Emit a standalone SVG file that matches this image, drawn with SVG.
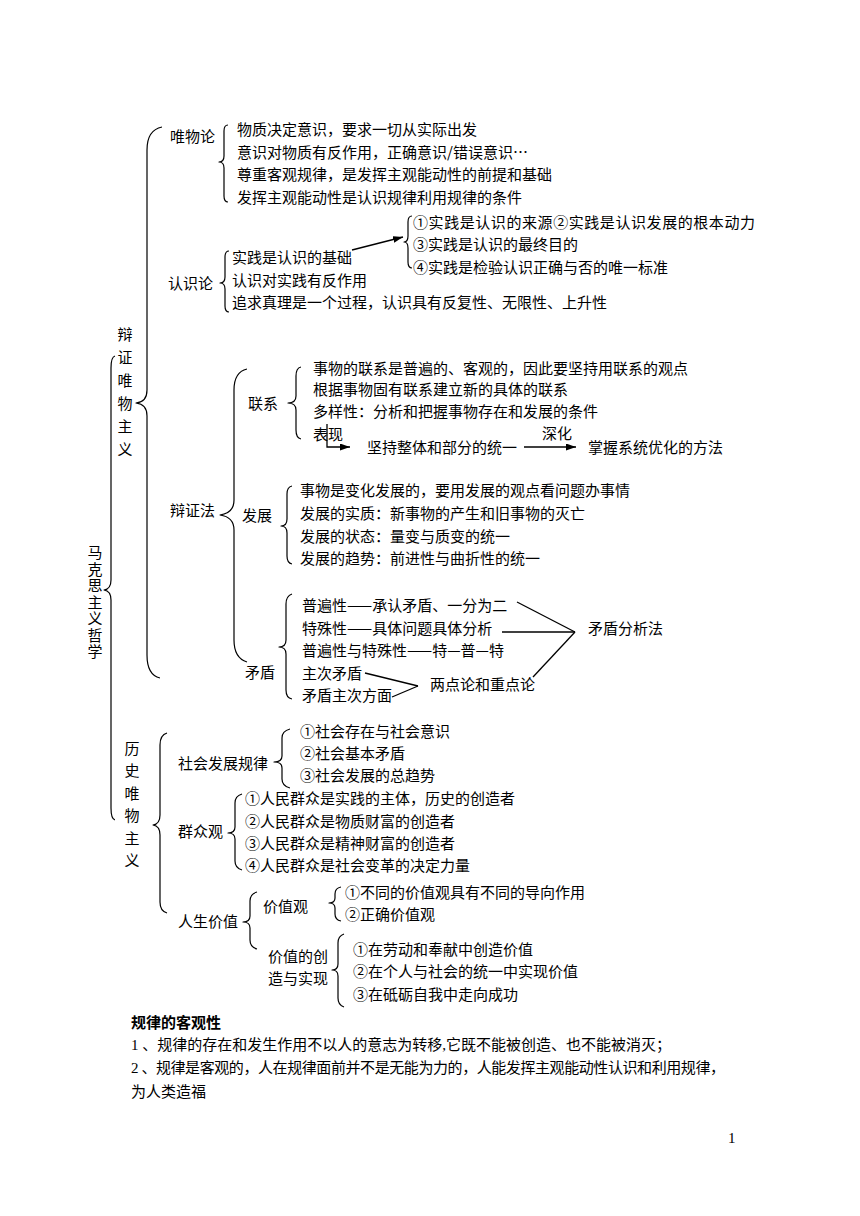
<svg xmlns="http://www.w3.org/2000/svg" width="860" height="1216" viewBox="0 0 860 1216">
<style>
.t{font-family:"Noto Sans CJK SC",sans-serif;font-size:15px;fill:#000}
.b{font-family:"Liberation Serif","Noto Sans CJK SC",serif;font-size:15px;fill:#000}
.v{font-family:"Noto Sans CJK SC",sans-serif;font-size:15px;fill:#000;text-anchor:middle}
.vt{font-family:"Noto Sans CJK SC",sans-serif;font-size:15px;fill:#000;writing-mode:tb;glyph-orientation-vertical:0}
.br{fill:none;stroke:#000;stroke-width:1.2;stroke-linejoin:round}
.ln{fill:none;stroke:#000;stroke-width:1.3}
</style>
<defs>
<marker id="ah" viewBox="0 0 10 7" refX="10" refY="3.5" markerWidth="10" markerHeight="7" markerUnits="userSpaceOnUse" orient="auto">
<path d="M0,0 L10,3.5 L0,7 z" fill="#000"/>
</marker>
</defs>
<rect width="860" height="1216" fill="#fff"/>

<g id="connectors">
<path class="br" d="M115,356 Q111,357 111,368 L111,580 Q111,589 104,590 Q111,591 111,600 L111,808 Q111,819 115,820"/>
<path class="br" d="M162,127 Q147,130 147,150 L147,390 Q147,402 136,403 Q147,404 147,416 L147,655 Q147,675 160,678"/>
<path class="br" d="M247,369 Q234,372 234,390 L234,500 Q234,513 220,515 Q234,517 234,530 L234,640 Q234,658 247,662"/>
<path class="br" d="M167,733 Q160,735 160,745 L160,815 Q160,824 153,825 Q160,826 160,835 L160,902 Q160,911 167,913"/>
<path class="br" d="M228,125 Q224,125 224,131 L224,156 Q224,162 219,162 Q224,162 224,168 L224,196 Q224,202 228,202"/>
<path class="br" d="M229,251 Q225,251 225,257 L225,277 Q225,283 220,283 Q225,283 225,289 L225,306 Q225,312 229,312"/>
<path class="br" d="M412,216 Q408,216 408,222 L408,236 Q408,242 404,242 Q408,242 408,248 L408,262 Q408,268 412,268"/>
<path class="br" d="M301,367 Q296,368 296,376 L296,396 Q296,403 288,403 Q296,403 296,410 L296,430 Q296,438 301,439"/>
<path class="br" d="M292,486 Q287,487 287,494 L287,519 Q287,526 281,526 Q287,526 287,533 L287,556 Q287,563 292,564"/>
<path class="br" d="M292,594 Q286,596 286,604 L286,640 Q286,647 279,647 Q286,647 286,654 L286,690 Q286,698 292,699"/>
<path class="br" d="M290,729 Q282,731 282,738 L282,756 Q282,762 274,762 Q282,762 282,768 L282,779 Q282,786 290,788"/>
<path class="br" d="M242,794 Q235,796 235,803 L235,827 Q235,833 228,833 Q235,833 235,839 L235,861 Q235,868 242,870"/>
<path class="br" d="M257,892 Q250,894 250,901 L250,916 Q250,922 243,922 Q250,922 250,928 L250,940 Q250,947 257,949"/>
<path class="br" d="M341,887 Q335,888 335,894 L335,898 Q335,903 329,903 Q335,903 335,908 L335,914 Q335,920 341,921"/>
<path class="br" d="M344,934 Q338,936 338,943 L338,964 Q338,970 332,970 Q338,970 338,976 L338,998 Q338,1005 344,1007"/>
<line class="ln" x1="352" y1="250" x2="403" y2="237" marker-end="url(#ah)"/>
<path class="ln" d="M327,424 L327,447 L350,447" marker-end="url(#ah)"/>
<line class="ln" x1="524" y1="447" x2="576" y2="447" marker-end="url(#ah)"/>
<line class="ln" x1="517" y1="602" x2="575" y2="632"/>
<line class="ln" x1="502" y1="632" x2="575" y2="632"/>
<line class="ln" x1="533" y1="677" x2="575" y2="632"/>
<line class="ln" x1="365" y1="673" x2="418" y2="686"/>
<line class="ln" x1="392" y1="697" x2="418" y2="686"/>
</g>

<g id="n-root">
<text class="vt" x="95" y="545" letter-spacing="1.5">马克思主义哲学</text>
</g>

<g id="n-bianzheng">
<text class="v" x="125" y="339.5">辩</text>
<text class="v" x="125" y="362.5">证</text>
<text class="v" x="125" y="385.5">唯</text>
<text class="v" x="125" y="408.5">物</text>
<text class="v" x="125" y="431.5">主</text>
<text class="v" x="125" y="454.5">义</text>
</g>

<g id="n-weiwulun">
<text class="t" x="170" y="141.5">唯物论</text>
</g>
<g id="n-weiwulun-items">
<text class="t" x="237" y="135">物质决定意识，要求一切从实际出发</text>
<text class="t" x="237" y="157.5">意识对物质有反作用，正确意识/错误意识…</text>
<text class="t" x="237" y="180">尊重客观规律，是发挥主观能动性的前提和基础</text>
<text class="t" x="237" y="202.5">发挥主观能动性是认识规律利用规律的条件</text>
</g>

<g id="n-renshilun">
<text class="t" x="168" y="288.5">认识论</text>
</g>
<g id="n-renshilun-items">
<text class="t" x="232" y="262.5">实践是认识的基础</text>
<text class="t" x="232" y="285.5">认识对实践有反作用</text>
<text class="t" x="232" y="307.5">追求真理是一个过程，认识具有反复性、无限性、上升性</text>
</g>
<g id="n-shijian-items">
<text class="t" x="413" y="227.5" textLength="342">①实践是认识的来源②实践是认识发展的根本动力</text>
<text class="t" x="413" y="249.5">③实践是认识的最终目的</text>
<text class="t" x="413" y="272.5">④实践是检验认识正确与否的唯一标准</text>
</g>

<g id="n-bianzhengfa">
<text class="t" x="170" y="515.5">辩证法</text>
</g>

<g id="n-lianxi">
<text class="t" x="248" y="408.5">联系</text>
</g>
<g id="n-lianxi-items">
<text class="t" x="313" y="373.5">事物的联系是普遍的、客观的，因此要坚持用联系的观点</text>
<text class="t" x="313" y="394.5">根据事物固有联系建立新的具体的联系</text>
<text class="t" x="313" y="416.5">多样性：分析和把握事物存在和发展的条件</text>
<text class="t" x="313" y="439.5">表现</text>
</g>
<g id="n-zhengti">
<text class="t" x="367" y="452.5">坚持整体和部分的统一</text>
</g>
<g id="n-shenhua">
<text class="t" x="542" y="438.5">深化</text>
</g>
<g id="n-xitong">
<text class="t" x="588" y="452.5">掌握系统优化的方法</text>
</g>

<g id="n-fazhan">
<text class="t" x="242" y="520.5">发展</text>
</g>
<g id="n-fazhan-items">
<text class="t" x="300" y="495.5">事物是变化发展的，要用发展的观点看问题办事情</text>
<text class="t" x="300" y="518.5">发展的实质：新事物的产生和旧事物的灭亡</text>
<text class="t" x="300" y="541.5">发展的状态：量变与质变的统一</text>
<text class="t" x="300" y="563.5">发展的趋势：前进性与曲折性的统一</text>
</g>

<g id="n-maodun">
<text class="t" x="245" y="677.5">矛盾</text>
</g>
<g id="n-maodun-items">
<text class="t" x="302" y="610.5">普遍性——承认矛盾、一分为二</text>
<text class="t" x="302" y="633.5">特殊性——具体问题具体分析</text>
<text class="t" x="302" y="655.5">普遍性与特殊性——特—普—特</text>
<text class="t" x="302" y="678.5">主次矛盾</text>
<text class="t" x="302" y="700.5">矛盾主次方面</text>
</g>
<g id="n-fenxifa">
<text class="t" x="588" y="633.5">矛盾分析法</text>
</g>
<g id="n-liangdianlun">
<text class="t" x="430" y="689.5">两点论和重点论</text>
</g>

<g id="n-lishi">
<text class="v" x="132" y="753.5">历</text>
<text class="v" x="132" y="776">史</text>
<text class="v" x="132" y="798.5">唯</text>
<text class="v" x="132" y="821">物</text>
<text class="v" x="132" y="843.5">主</text>
<text class="v" x="132" y="866">义</text>
</g>

<g id="n-shehui">
<text class="t" x="178" y="768.5">社会发展规律</text>
</g>
<g id="n-shehui-items">
<text class="t" x="300" y="736.5">①社会存在与社会意识</text>
<text class="t" x="300" y="758.5">②社会基本矛盾</text>
<text class="t" x="300" y="780.5">③社会发展的总趋势</text>
</g>

<g id="n-qunzhong">
<text class="t" x="178" y="836.5">群众观</text>
</g>
<g id="n-qunzhong-items">
<text class="t" x="245" y="803.5">①人民群众是实践的主体，历史的创造者</text>
<text class="t" x="245" y="826.5">②人民群众是物质财富的创造者</text>
<text class="t" x="245" y="848.5">③人民群众是精神财富的创造者</text>
<text class="t" x="245" y="870.5">④人民群众是社会变革的决定力量</text>
</g>

<g id="n-rensheng">
<text class="t" x="178" y="926.5">人生价值</text>
</g>
<g id="n-jiazhiguan">
<text class="t" x="263" y="911.5">价值观</text>
</g>
<g id="n-jiazhiguan-items">
<text class="t" x="345" y="897.5">①不同的价值观具有不同的导向作用</text>
<text class="t" x="345" y="919.5">②正确价值观</text>
</g>
<g id="n-chuangzao">
<text class="t" x="268" y="961.5">价值的创</text>
<text class="t" x="268" y="983.5">造与实现</text>
</g>
<g id="n-chuangzao-items">
<text class="t" x="353" y="954.5">①在劳动和奉献中创造价值</text>
<text class="t" x="353" y="976.5">②在个人与社会的统一中实现价值</text>
<text class="t" x="353" y="999.5">③在砥砺自我中走向成功</text>
</g>

<g id="n-notes">
<text class="b" x="131" y="1027.5" font-weight="bold">规律的客观性</text>
<text class="b" x="131" y="1050" textLength="540">1 、规律的存在和发生作用不以人的意志为转移,它既不能被创造、也不能被消灭；</text>
<text class="b" x="131" y="1072.5" textLength="594">2 、规律是客观的，人在规律面前并不是无能为力的，人能发挥主观能动性认识和利用规律，</text>
<text class="b" x="131" y="1096.5">为人类造福</text>
<text class="b" x="728" y="1143">1</text>
</g>
</svg>
